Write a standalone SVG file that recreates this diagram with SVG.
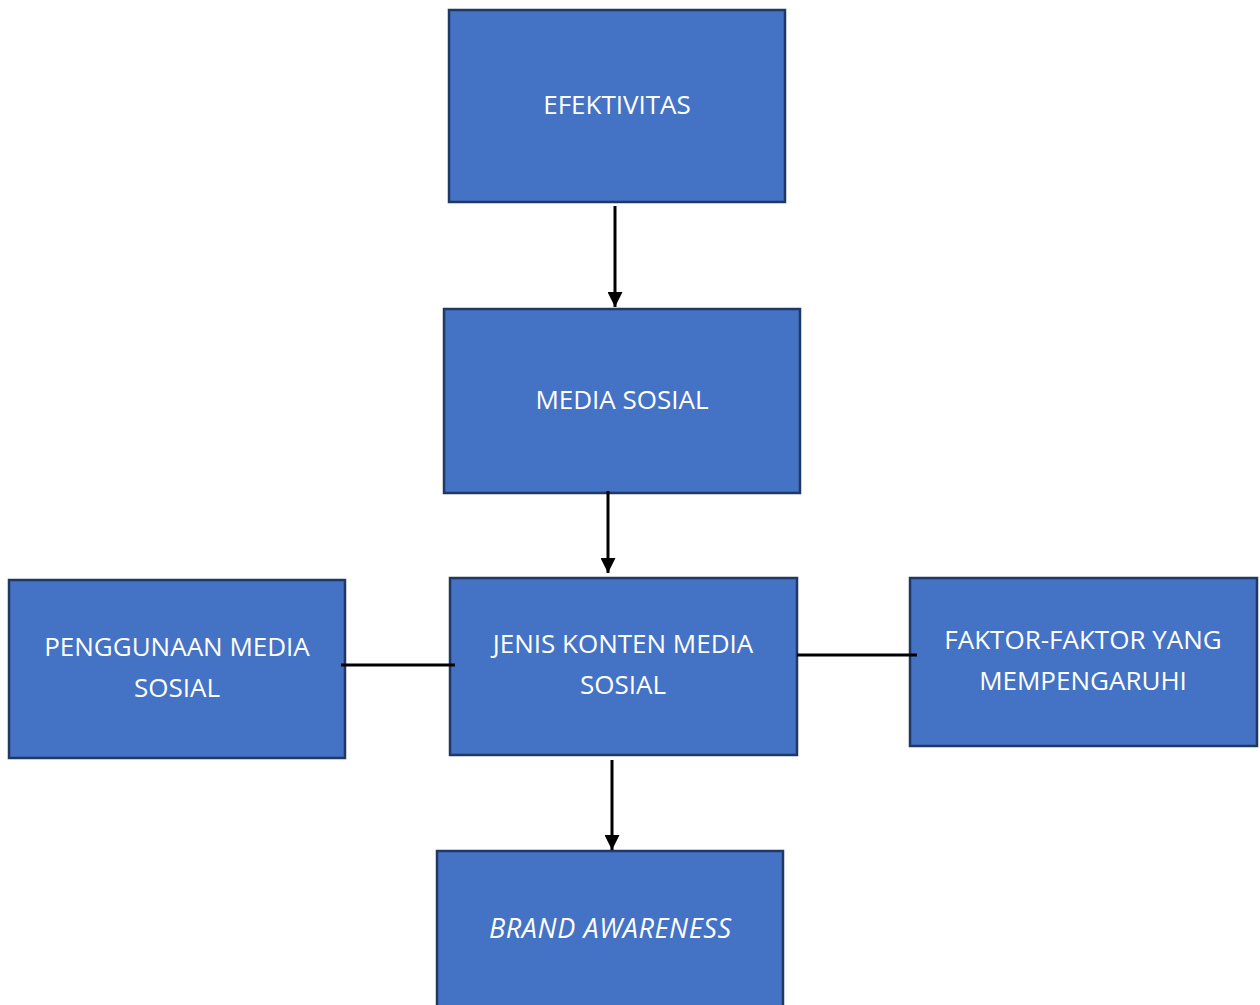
<svg xmlns="http://www.w3.org/2000/svg" width="1260" height="1005" viewBox="0 0 1260 1005">
<style>
.box{fill:#4472C4;stroke:#1F3864;stroke-width:2.5}
.t{font-family:"Open Sans","Noto Sans",sans-serif;font-size:26px;fill:#FFFFFF;text-anchor:middle}
.it{font-style:italic;font-size:27px}
.c{stroke:#000;stroke-width:3;fill:none}
</style>
<defs>
<marker id="ah" viewBox="0 0 10 10" refX="10" refY="5" markerWidth="5" markerHeight="5" orient="auto" markerUnits="strokeWidth">
<path d="M0,0 L10,5 L0,10 z" fill="#000"/>
</marker>
</defs>
<rect width="1260" height="1005" fill="#fff"/>
<g id="n1"><rect class="box" x="449" y="10" width="336" height="192"/><text class="t" x="617" y="114">EFEKTIVITAS</text></g>
<g id="n2"><rect class="box" x="444" y="309" width="356" height="184"/><text class="t" x="622" y="409">MEDIA SOSIAL</text></g>
<g id="n3"><rect class="box" x="450" y="578" width="347" height="177"/><text class="t" x="623" y="653">JENIS KONTEN MEDIA</text><text class="t" x="623" y="694">SOSIAL</text></g>
<g id="n4"><rect class="box" x="9" y="580" width="336" height="178"/><text class="t" x="177" y="656">PENGGUNAAN MEDIA</text><text class="t" x="177" y="697">SOSIAL</text></g>
<g id="n5"><rect class="box" x="910" y="578" width="347" height="168"/><text class="t" x="1083" y="649">FAKTOR-FAKTOR YANG</text><text class="t" x="1083" y="690">MEMPENGARUHI</text></g>
<g id="n6"><rect class="box" x="437" y="851" width="346" height="160"/><text class="t it" x="610" y="938" textLength="242" lengthAdjust="spacing">BRAND AWARENESS</text></g>
<g id="connectors">
<line class="c" x1="615" y1="206" x2="615" y2="307" marker-end="url(#ah)"/>
<line class="c" x1="608" y1="491" x2="608" y2="573" marker-end="url(#ah)"/>
<line class="c" x1="612" y1="760" x2="612" y2="850" marker-end="url(#ah)"/>
<line class="c" x1="341" y1="665" x2="455" y2="665"/>
<line class="c" x1="797" y1="655" x2="917" y2="655"/>
</g>
</svg>
